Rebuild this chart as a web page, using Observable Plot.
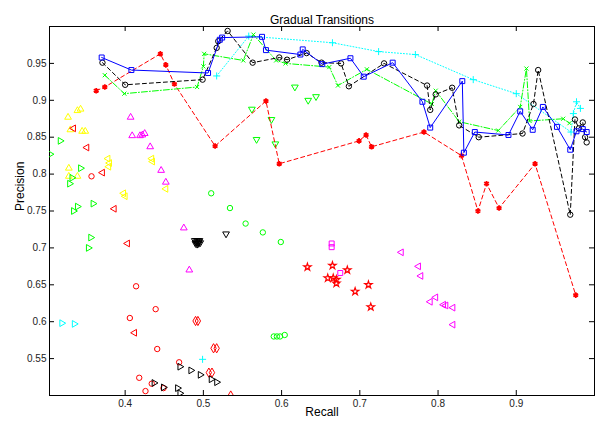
<!DOCTYPE html>
<html><head><meta charset="utf-8">
<script src="https://cdn.jsdelivr.net/npm/d3@7"></script>
<script src="https://cdn.jsdelivr.net/npm/@observablehq/plot@0.6"></script>
<style>body{margin:0;background:#fff}#chart svg{display:block}</style>
</head><body><div id="chart"></div>
<script>
const title = "Gradual Transitions";
const xLabel = "Recall";
const yLabel = "Precision";
const xTicks = [0.4, 0.5, 0.6, 0.7, 0.8, 0.9];
const yTicks = [0.55, 0.6, 0.65, 0.7, 0.75, 0.8, 0.85, 0.9, 0.95];

// line series [recall, precision]
const blueLine = [[0.370,0.958],[0.408,0.941],[0.506,0.937],[0.521,0.982],[0.524,0.985],[0.575,0.986],[0.580,0.968],[0.624,0.962],[0.627,0.969],[0.652,0.949],[0.688,0.957],[0.705,0.932],[0.742,0.951],[0.780,0.898],[0.790,0.863],[0.831,0.926],[0.833,0.829],[0.847,0.857],[0.890,0.853],[0.905,0.885],[0.921,0.860],[0.934,0.891],[0.952,0.864],[0.969,0.833],[0.977,0.858],[0.985,0.861],[0.990,0.857]];
const blackLine = [[0.371,0.951],[0.400,0.921],[0.499,0.928],[0.517,0.971],[0.519,0.980],[0.531,0.994],[0.563,0.951],[0.597,0.958],[0.607,0.955],[0.632,0.964],[0.651,0.951],[0.676,0.950],[0.686,0.919],[0.731,0.950],[0.786,0.920],[0.790,0.887],[0.797,0.908],[0.818,0.917],[0.827,0.866],[0.852,0.850],[0.908,0.855],[0.922,0.895],[0.928,0.941],[0.969,0.745],[0.975,0.874],[0.980,0.862],[0.985,0.870],[0.988,0.850],[0.990,0.843]];
const greenLine = [[0.374,0.934],[0.399,0.909],[0.492,0.918],[0.500,0.946],[0.501,0.963],[0.551,0.954],[0.564,0.989],[0.593,0.954],[0.605,0.950],[0.661,0.945],[0.672,0.920],[0.709,0.942],[0.792,0.895],[0.797,0.913],[0.827,0.871],[0.877,0.859],[0.905,0.891],[0.913,0.943],[0.917,0.872],[0.960,0.875],[0.968,0.869]];
const cyanLine = [[0.517,0.933],[0.558,0.987],[0.665,0.978],[0.724,0.966],[0.771,0.962],[0.845,0.928],[0.900,0.909],[0.970,0.857],[0.973,0.882],[0.977,0.898],[0.982,0.889]];
const redLine = [[0.363,0.913],[0.374,0.918],[0.445,0.963],[0.452,0.948],[0.463,0.922],[0.515,0.838],[0.580,0.899],[0.597,0.814],[0.699,0.845],[0.708,0.853],[0.715,0.837],[0.782,0.857],[0.830,0.825],[0.851,0.750],[0.862,0.787],[0.878,0.754],[0.924,0.814],[0.976,0.636]];

// scatter series
const yellowUp = [[0.327,0.877],[0.339,0.886],[0.343,0.888],[0.330,0.860],[0.345,0.858],[0.349,0.858],[0.328,0.808],[0.328,0.797],[0.339,0.797]];
const yellowLeft = [[0.378,0.821],[0.380,0.815],[0.379,0.810],[0.434,0.821],[0.435,0.817],[0.398,0.774],[0.400,0.770],[0.452,0.780]];
const magentaUp = [[0.407,0.877],[0.409,0.852],[0.419,0.852],[0.422,0.853],[0.425,0.855],[0.432,0.837],[0.446,0.805],[0.452,0.789],[0.475,0.727],[0.482,0.670]];
const magentaSquare = [[0.664,0.706],[0.664,0.701],[0.675,0.666]];
const magentaLeft = [[0.753,0.694],[0.775,0.675],[0.778,0.662],[0.790,0.627],[0.797,0.633],[0.807,0.623],[0.810,0.622],[0.819,0.619],[0.819,0.596]];
const redLeft = [[0.334,0.862],[0.351,0.836],[0.371,0.802],[0.386,0.753],[0.403,0.706],[0.412,0.585]];
const redCircle = [[0.357,0.797],[0.414,0.648],[0.439,0.617],[0.406,0.605],[0.441,0.563],[0.469,0.545],[0.418,0.524],[0.434,0.516],[0.449,0.510],[0.426,0.506]];
const redDiamond = [[0.490,0.601],[0.493,0.601],[0.513,0.564],[0.517,0.564],[0.507,0.531],[0.511,0.531],[0.535,0.500]];
const redStar = [[0.633,0.674],[0.665,0.676],[0.659,0.659],[0.666,0.659],[0.670,0.657],[0.670,0.652],[0.684,0.670],[0.694,0.641],[0.711,0.650],[0.714,0.620]];
const greenRight = [[0.317,0.845],[0.304,0.827],[0.343,0.808],[0.332,0.795],[0.329,0.787],[0.339,0.756],[0.334,0.750],[0.359,0.760],[0.356,0.714],[0.353,0.700]];
const greenDown = [[0.617,0.918],[0.634,0.900],[0.644,0.905],[0.562,0.888],[0.587,0.874],[0.568,0.847],[0.592,0.841]];
const greenCircle = [[0.510,0.774],[0.534,0.754],[0.554,0.733],[0.576,0.721],[0.599,0.708],[0.590,0.580],[0.594,0.580],[0.598,0.580],[0.604,0.582]];
const blackDown = [[0.489,0.710],[0.491,0.708],[0.492,0.710],[0.494,0.709],[0.495,0.710],[0.496,0.707],[0.490,0.706],[0.493,0.707],[0.494,0.706],[0.492,0.705],[0.529,0.719]];
const blackRight = [[0.470,0.539],[0.484,0.534],[0.496,0.528],[0.510,0.522],[0.517,0.518],[0.437,0.517],[0.449,0.511],[0.467,0.510],[0.470,0.503]];
const cyanRight = [[0.319,0.598],[0.335,0.597]];
const cyanPlus = [[0.499,0.549]];

function tri(angle) {
  const a = angle * Math.PI / 180, c = Math.cos(a), s = Math.sin(a);
  return {draw(ctx, size) {
    const y = -Math.sqrt(size / (Math.sqrt(3) * 3));
    const pts = [[0, 2 * y], [-Math.sqrt(3) * y, -y], [Math.sqrt(3) * y, -y]]
      .map(([px, py]) => [px * c - py * s, px * s + py * c]);
    ctx.moveTo(pts[0][0], pts[0][1]);
    ctx.lineTo(pts[1][0], pts[1][1]);
    ctx.lineTo(pts[2][0], pts[2][1]);
    ctx.closePath();
  }};
}
const triUp = tri(0), triRight = tri(90), triDown = tri(180), triLeft = tri(-90);

const X = d => d[0], Y = d => d[1];
const dots = (data, symbol, color, r = 2.7, extra = {}) =>
  Plot.dot(data, {x: X, y: Y, symbol, stroke: color, fill: "none", r, strokeWidth: 1, clip: true, ...extra});
const line = (data, color, dash) =>
  Plot.line(data, {x: X, y: Y, stroke: color, strokeWidth: 1, strokeDasharray: dash, clip: true});

const W = 595 - 49 - 1, H = 422 - 26 - 27;
const fmt = d => String(+d.toFixed(2));

const chart = Plot.plot({
  width: 595, height: 422,
  marginLeft: 49, marginRight: 1, marginTop: 26, marginBottom: 27,
  x: {domain: [0.3033, 1.0]},
  y: {domain: [0.5, 1.0]},
  style: {fontFamily: "'Liberation Sans', Arial, sans-serif", fontSize: "10px", color: "#222", background: "#fff"},
  marks: [
    Plot.frame({stroke: "#000", strokeWidth: 1}),
    Plot.ruleX(xTicks, {x: d => d, insetTop: H - 5, stroke: "#000"}),
    Plot.ruleX(xTicks, {x: d => d, insetBottom: H - 5, stroke: "#000"}),
    Plot.ruleY(yTicks, {y: d => d, insetRight: W - 5, stroke: "#000"}),
    Plot.ruleY(yTicks, {y: d => d, insetLeft: W - 5, stroke: "#000"}),
    Plot.axisX(xTicks, {tickSize: 0, tickPadding: 4, tickFormat: fmt, label: null}),
    Plot.axisY(yTicks, {tickSize: 0, tickPadding: 3, tickFormat: fmt, label: null}),
    Plot.text([title], {frameAnchor: "top", dy: -11.5, fontSize: 12, fill: "#000"}),
    Plot.text([xLabel], {frameAnchor: "bottom", dy: 20.5, fontSize: 12, fill: "#000"}),
    Plot.text([yLabel], {frameAnchor: "left", dx: -29, rotate: -90, fontSize: 12, fill: "#000"}),

    dots(yellowUp, triUp, "#ffff00", 2.5),
    dots(yellowLeft, triLeft, "#ffff00", 2.5),
    dots(magentaUp, triUp, "#ff00ff", 2.5),
    dots(magentaSquare, "square", "#ff00ff", 2.8),
    dots(magentaLeft, triLeft, "#ff00ff", 2.5),
    dots(redLeft, triLeft, "#ff0000", 2.5),
    dots(redCircle, "circle", "#ff0000", 2.7),
    dots(redDiamond, "diamond", "#ff0000", 2.8),
    dots(redStar, "star", "#ff0000", 2.3, {strokeWidth: 1.2}),
    dots(greenRight, triRight, "#00ff00", 2.5),
    dots(greenDown, triDown, "#00ff00", 2.5),
    dots(greenCircle, "circle", "#00ff00", 2.7),
    dots(blackDown, triDown, "#000000", 2.5),
    dots(blackRight, triRight, "#000000", 2.5),
    dots(cyanRight, triRight, "#00ffff", 2.5),
    dots(cyanPlus, "plus", "#00ffff", 2.4),

    line(redLine, "#ff0000", "4,3"),
    dots(redLine, "asterisk", "#ff0000", 2.6, {strokeWidth: 1.8}),
    line(cyanLine, "#00ffff", "1,2"),
    dots(cyanLine, "plus", "#00ffff", 2.4),
    line(greenLine, "#00ff00", "6,2,1,2"),
    dots(greenLine, "times", "#00ff00", 2.0),
    line(blackLine, "#000000", "4,3"),
    dots(blackLine, "circle", "#000000", 2.7),
    line(blueLine, "#0000ff", null),
    dots(blueLine, "square", "#0000ff", 2.8)
  ]
});
document.getElementById("chart").appendChild(chart);
</script>
</body></html>
